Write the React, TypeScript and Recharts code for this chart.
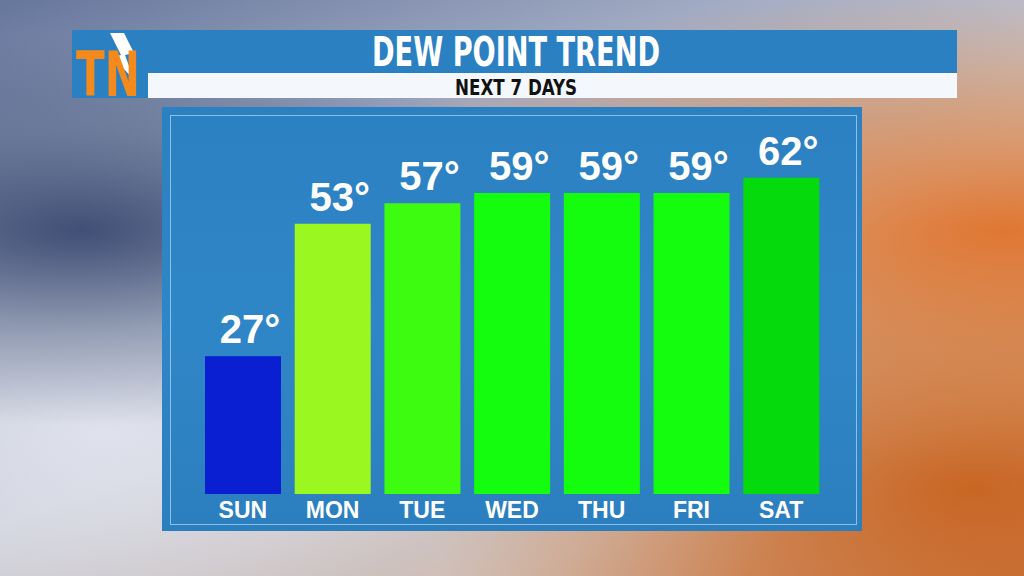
import { Bar, BarChart, Cell, LabelList, XAxis, YAxis } from "recharts";

const days = ["SUN", "MON", "TUE", "WED", "THU", "FRI", "SAT"];
const dewPoints = [27, 53, 57, 59, 59, 59, 62];
const barColors = ["#0a1ed2", "#9bf720", "#3efc10", "#14fc0e", "#14fc0e", "#14fc0e", "#04da0c"];

const data = days.map((day, i) => ({ day, value: dewPoints[i] }));

const renderValue = (props: any) => {
  const { x, y, width, value } = props;
  return (
    <text
      x={x + width / 2 + 7}
      y={y - 13}
      textAnchor="middle"
      fill="#ffffff"
      fontFamily="'Liberation Sans', Arial, sans-serif"
      fontWeight="bold"
      fontSize={40}
    >
      {`${value}°`}
    </text>
  );
};

const condensed = "'DejaVu Sans Condensed', 'Liberation Sans Narrow', 'Liberation Sans', sans-serif";

function Header() {
  return (
    <svg width={1024} height={110} style={{ position: "absolute", left: 0, top: 0 }}>
      <rect x={72} y={30} width={885} height={43} fill="#2b80c2" />
      <rect x={148} y={73} width={809} height={25} fill="#f4f7fb" />
      <rect x={72} y={73} width={76} height={25} fill="#2b80c2" />
      <text
        x={516}
        y={66}
        textAnchor="middle"
        fill="#ffffff"
        fontFamily={condensed}
        fontWeight="bold"
        fontSize={40}
        textLength={288}
        lengthAdjust="spacingAndGlyphs"
      >
        DEW POINT TREND
      </text>
      <text
        x={516}
        y={95}
        textAnchor="middle"
        fill="#111111"
        fontFamily={condensed}
        fontWeight="bold"
        fontSize={22}
        textLength={122}
        lengthAdjust="spacingAndGlyphs"
      >
        NEXT 7 DAYS
      </text>
      {/* logo */}
      <polygon points="110,33 124,33 134,53 125,55 134,80 113,57 121,55" fill="#ffffff" />
      <text
        x={108}
        y={96}
        textAnchor="middle"
        fill="#f48a1c"
        fontFamily={condensed}
        fontWeight="bold"
        fontSize={62}
        textLength={64}
        lengthAdjust="spacingAndGlyphs"
      >
        TN
      </text>
    </svg>
  );
}

export default function App() {
  return (
    <div
      style={{
        position: "fixed",
        left: 0,
        top: 0,
        width: 1024,
        height: 576,
        overflow: "hidden",
        background:
          "radial-gradient(ellipse at 8% 40%, rgba(30,45,90,0.75) 0%, rgba(40,60,100,0.35) 20%, rgba(0,0,0,0) 40%), radial-gradient(ellipse at 10% 75%, rgba(225,228,238,0.9) 0%, rgba(190,198,215,0.4) 30%, rgba(0,0,0,0) 55%), radial-gradient(ellipse at 98% 40%, rgba(225,110,35,0.9) 0%, rgba(215,125,60,0.55) 25%, rgba(0,0,0,0) 50%), radial-gradient(ellipse at 95% 85%, rgba(200,95,25,0.9) 0%, rgba(0,0,0,0) 40%), linear-gradient(160deg, #66769c 0%, #a6afc6 30%, #d9d8dd 55%, #d7b8a2 80%, #c9865c 100%)",
      }}
    >
      <Header />
      <div
        style={{
          position: "absolute",
          left: 162,
          top: 107,
          width: 700,
          height: 424,
          background: "linear-gradient(180deg, #2b80c2 0%, #2f86c6 50%, #2c7fbf 100%)",
        }}
      >
        <div
          style={{
            position: "absolute",
            left: 8,
            top: 8,
            right: 5,
            bottom: 6,
            border: "1.5px solid #8cc0e6",
          }}
        />
        <div style={{ position: "absolute", left: 0, top: 0 }}>
          <BarChart
            width={700}
            height={424}
            data={data}
            margin={{ top: 30, right: 36, bottom: 0, left: 36 }}
            barSize={76}
          >
            <XAxis
              dataKey="day"
              height={37}
              tickLine={false}
              axisLine={false}
              tick={{
                fill: "#ffffff",
                fontSize: 23,
                fontWeight: "bold",
                fontFamily: "'Liberation Sans', Arial, sans-serif",
              }}
              interval={0}
            />
            <YAxis hide domain={[0, 70]} />
            <Bar dataKey="value" isAnimationActive={false}>
              {data.map((d, i) => (
                <Cell key={d.day} fill={barColors[i]} />
              ))}
              <LabelList dataKey="value" content={renderValue} />
            </Bar>
          </BarChart>
        </div>
      </div>
    </div>
  );
}
